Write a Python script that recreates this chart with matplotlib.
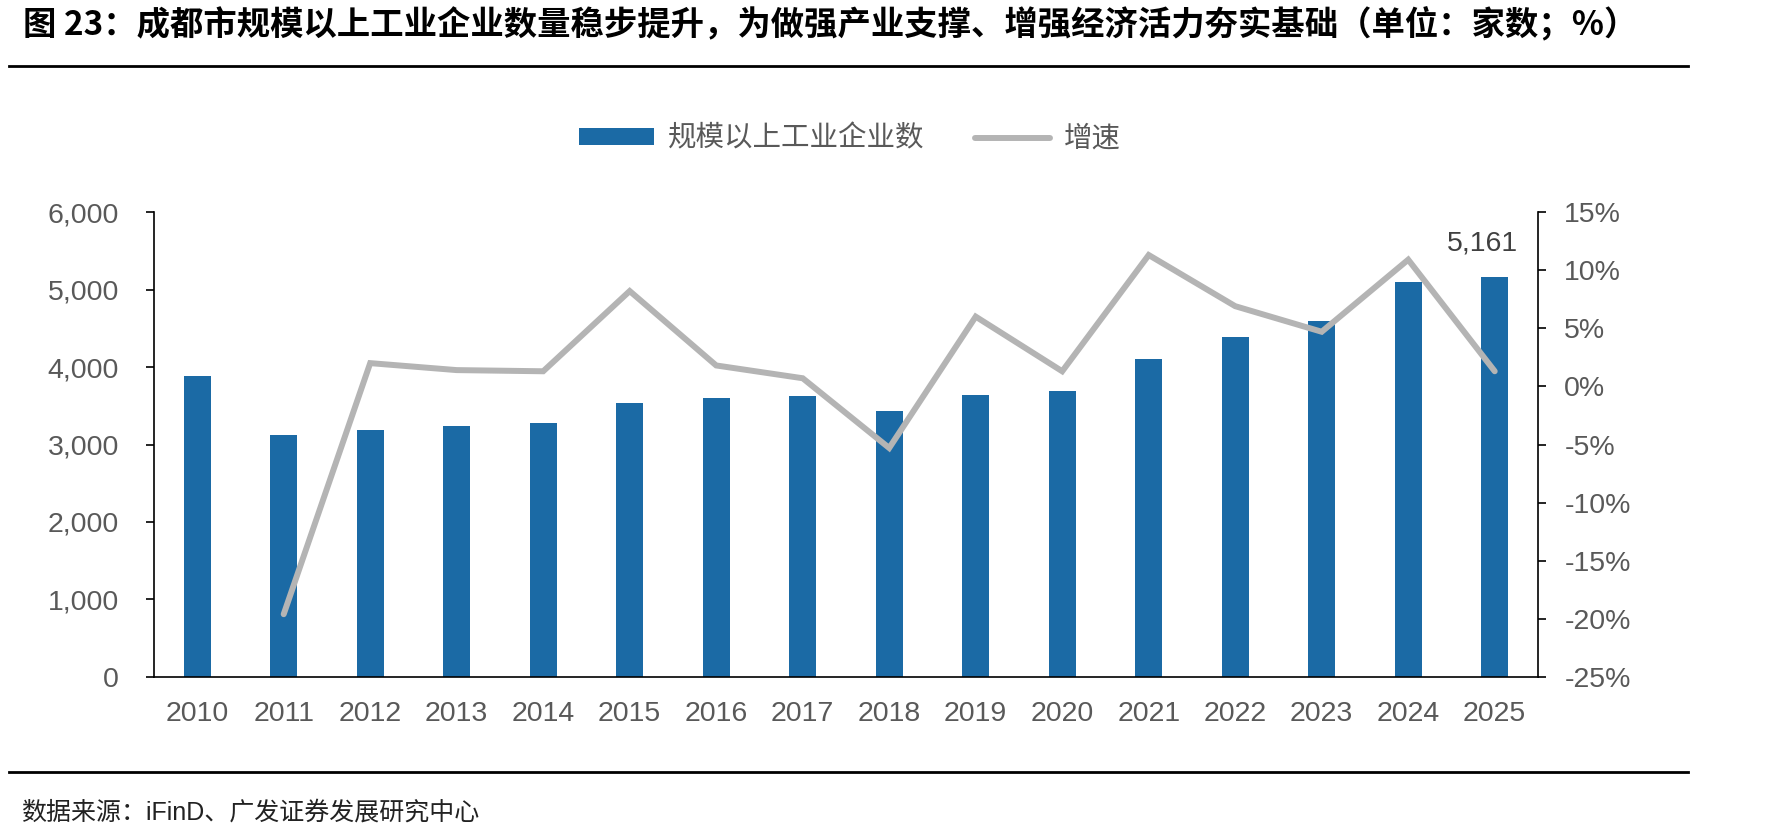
import matplotlib
matplotlib.use('Agg')
import matplotlib.pyplot as plt
import numpy as np
from matplotlib.ticker import FuncFormatter

plt.rcParams['font.family'] = ['Liberation Sans', 'Noto Sans CJK SC', 'DejaVu Sans']

years = ['2010', '2011', '2012', '2013', '2014', '2015', '2016', '2017',
         '2018', '2019', '2020', '2021', '2022', '2023', '2024', '2025']
companies = [3884, 3123, 3187, 3235, 3273, 3535, 3600, 3626,
             3432, 3639, 3686, 4103, 4387, 4594, 5093, 5161]
growth = [np.nan, -19.6, 2.0, 1.4, 1.3, 8.2, 1.8, 0.7,
          -5.3, 6.0, 1.3, 11.3, 6.9, 4.7, 10.9, 1.3]

bar_color = '#1B6AA5'
line_color = '#B4B4B4'
tick_color = '#595959'

fig = plt.figure(figsize=(17.9, 8.39), dpi=100)
ax = fig.add_axes([0.0860, 0.1931, 0.7732, 0.5542])
ax2 = ax.twinx()

x = np.arange(len(years))
bars = ax.bar(x, companies, width=0.31, color=bar_color, zorder=2, label='规模以上工业企业数')
line, = ax2.plot(x, growth, color=line_color, lw=4.3, solid_capstyle='round',
                 solid_joinstyle='miter', zorder=3, label='增速')

ax.set_xlim(-0.5, len(years) - 0.5)
ax.set_ylim(0, 6000)
ax.set_yticks(range(0, 6001, 1000))
ax.yaxis.set_major_formatter(FuncFormatter(lambda v, p: f'{int(v):,}'))
ax2.set_ylim(-25, 15)
ax2.set_yticks(range(-25, 16, 5))
ax2.yaxis.set_major_formatter(FuncFormatter(lambda v, p: f'{int(v)}%'))

ax.set_xticks(x)
ax.set_xticklabels(years)

ax.tick_params(axis='x', length=0, pad=17, labelsize=20.5, labelcolor=tick_color)
ax.tick_params(axis='y', length=6, width=1.2, direction='out', pad=19, labelsize=20.5,
               labelcolor=tick_color)
ax2.tick_params(axis='y', length=6, width=1.2, direction='out', pad=13, labelsize=20.5,
                labelcolor=tick_color)

for a in (ax, ax2):
    a.spines['top'].set_visible(False)
    for s in ('left', 'right', 'bottom'):
        a.spines[s].set_linewidth(1.2)
        a.spines[s].set_color('black')
ax.spines['right'].set_visible(False)
ax2.spines['left'].set_visible(False)
ax2.spines['bottom'].set_visible(False)
ax.set_zorder(ax2.get_zorder() - 1)
ax2.patch.set_visible(False)

# label on last bar
ax.annotate(f'{companies[-1]:,}', xy=(x[-1], companies[-1]), xytext=(-9, 15),
            textcoords='offset points', ha='center', va='bottom', fontsize=20.5,
            color='#404040')

fig.legend(handles=[bars, line], loc='center', bbox_to_anchor=(0.4749, 0.8343), ncol=2,
           frameon=False, fontsize=20.5, labelcolor=tick_color, handlelength=2.62,
           handleheight=0.5, handletextpad=0.49, columnspacing=1.78)

# title and source
fig.text(0.0128, 0.970, '图 23：成都市规模以上工业企业数量稳步提升，为做强产业支撑、增强经济活力夯实基础（单位：家数；%）',
         fontsize=24, fontweight='bold', ha='left', va='center', color='black',
         family=['Noto Sans CJK SC', 'DejaVu Sans'])
fig.add_artist(plt.Line2D([0.005, 0.943], [1 - 66 / 839] * 2, color='black', lw=2))
fig.add_artist(plt.Line2D([0.005, 0.943], [1 - 772 / 839] * 2, color='black', lw=2))
fig.text(0.0117, 1 - 813 / 839, '数据来源：iFinD、广发证券发展研究中心', fontsize=18,
         ha='left', va='center', color='#222222')

fig.savefig('out.png', dpi=100)
plt.close()
